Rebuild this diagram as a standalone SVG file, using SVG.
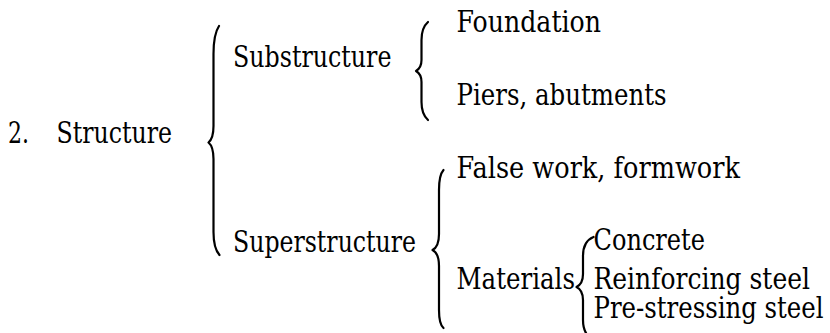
<svg xmlns="http://www.w3.org/2000/svg" width="830" height="333" viewBox="0 0 830 333">
<style>
text{font-family:'DejaVu Serif','Liberation Serif',serif;font-size:29px;fill:#000}
.br{fill:none;stroke:#000;stroke-width:2.2;stroke-linecap:round;stroke-linejoin:round}
</style>
<rect width="830" height="333" fill="#fff"/>
<g id="connectors">
<path class="br" d="M219,26 C215,32 213.5,40 213.5,54 L213.5,126 C213.5,135 211.5,140 208.5,142.5 C211.5,145 213.5,150 213.5,159 L213.5,232 C213.5,244 215,250 219.5,255"/>
<path class="br" d="M428,22 C423.5,26 421.5,32 421.5,40 L421.5,60 C421.5,66 419.5,69 416,71 C419.5,73 421.5,76 421.5,82 L421.5,102 C421.5,110 423.5,116 428,120"/>
<path class="br" d="M443.5,170 C440,174 439,180 439,190 L439,234 C439,243 436.5,248 432.5,250 C436.5,252 439,257 439,266 L439,310 C439,320 440,325 443.5,328"/>
<path class="br" d="M593.5,237 C586,240 583,246 583,256 L583,274 C583,281 580.5,285 576.5,287 C580.5,289 583,293 583,300 L583,320 C583,330 586,336 593,340"/>
</g>
<g id="n-structure"><text x="8" y="142.5" textLength="21" lengthAdjust="spacingAndGlyphs">2.</text><text x="56.5" y="142.5" textLength="115.5" lengthAdjust="spacingAndGlyphs">Structure</text></g>
<g id="n-substructure"><text x="233" y="66.5" textLength="158.5" lengthAdjust="spacingAndGlyphs">Substructure</text></g>
<g id="n-superstructure"><text x="233" y="251.5" textLength="183" lengthAdjust="spacingAndGlyphs">Superstructure</text></g>
<g id="n-foundation"><text x="456.5" y="32" textLength="144.5" lengthAdjust="spacingAndGlyphs">Foundation</text></g>
<g id="n-piers"><text x="456.5" y="104.5" textLength="210" lengthAdjust="spacingAndGlyphs">Piers, abutments</text></g>
<g id="n-falsework"><text x="456.5" y="177.5" textLength="283.5" lengthAdjust="spacingAndGlyphs">False work, formwork</text></g>
<g id="n-materials"><text x="456.5" y="288.5" textLength="118.5" lengthAdjust="spacingAndGlyphs">Materials</text></g>
<g id="n-concrete"><text x="593.5" y="250" textLength="111.5" lengthAdjust="spacingAndGlyphs">Concrete</text></g>
<g id="n-reinforcing"><text x="593.5" y="288.5" textLength="216.5" lengthAdjust="spacingAndGlyphs">Reinforcing steel</text></g>
<g id="n-prestressing"><text x="593.5" y="318" textLength="230" lengthAdjust="spacingAndGlyphs">Pre-stressing steel</text></g>
</svg>
